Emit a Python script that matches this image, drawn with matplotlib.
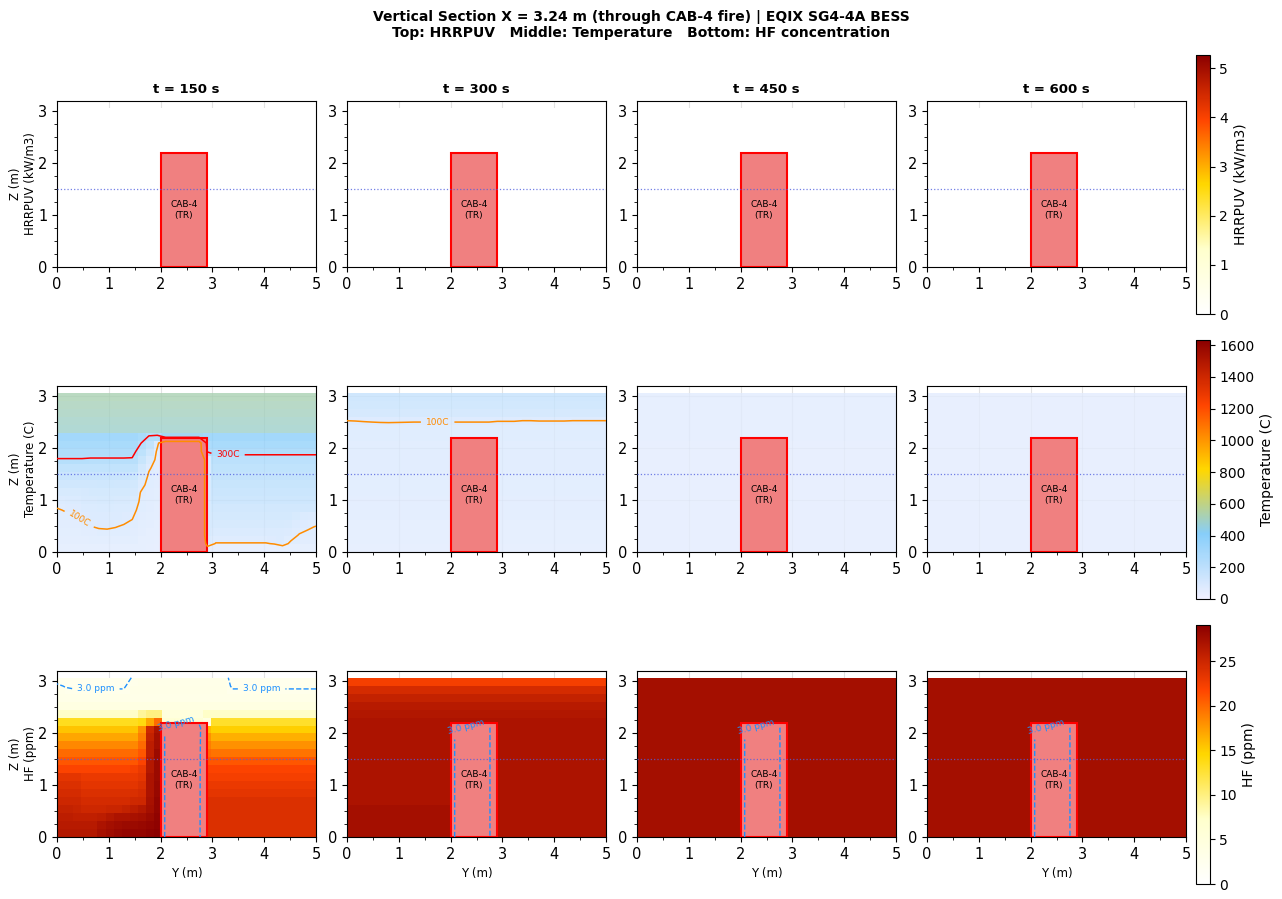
import numpy as np
import matplotlib
matplotlib.use("Agg")
import matplotlib.pyplot as plt
from matplotlib.colors import LinearSegmentedColormap, Normalize
from matplotlib.cm import ScalarMappable
from matplotlib.patches import Rectangle
from matplotlib.ticker import MultipleLocator

# ---------------- data ----------------
times = [150, 300, 450, 600]
col_titles = ["t = 150 s", "t = 300 s", "t = 450 s", "t = 600 s"]
y_extent = [0.0, 5.0]
z_extent = [0.0, 3.07]
n_y, n_z = 32, 20

cab_y = [2.0, 2.9]
cab_top = 2.2
probe_z = 1.5

hrr_vmax, temp_vmax, hf_vmax = 5.27, 1632.0, 29.1
hrr_level = [0.0, 0.0, 0.0, 0.0]          # HRRPUV in the section (kW/m3)

# Temperature (C), rows listed from top (z=3.07) to bottom (z=0), 32 columns in Y
temp_150 = [
    [525] * 32,
    [515] * 32,
    [505] * 32,
    [495] * 32,
    [485] * 32,
    [390] * 10 + [360, 310, 315] + [430] * 5 + [390] * 14,
    [360] * 10 + [305, 240, 115] + [20] * 5 + [340] + [360] * 13,
    [330] * 10 + [260, 180, 90] + [20] * 5 + [310] + [320] * 13,
    [295] * 4 + [292] * 5 + [290, 210, 130, 88] + [20] * 5 + [140] + [270] * 13,
    [240] * 10 + [160, 104, 87] + [20] * 5 + [140] + [245] * 13,
    [200] * 9 + [190, 130, 94, 85] + [20] * 5 + [140] + [225] * 13,
    [170] * 5 + [175, 175, 170, 170, 165, 110, 91, 83] + [20] * 5 + [140] + [210] * 13,
    [140, 140, 140, 145, 150, 150, 150, 150, 150, 145, 98, 89, 81] + [20] * 5 + [140] + [195] * 13,
    [110, 115, 120, 128, 132, 135, 135, 132, 130, 125, 94, 86, 79] + [20] * 5 + [140] + [180] * 13,
    [97, 102, 108, 115, 120, 123, 123, 120, 115, 110, 90, 83, 76] + [20] * 5 + [140] + [165] * 13,
    [90, 92, 96, 103, 110, 113, 113, 110, 105, 101, 85, 80, 73] + [20] * 5 + [140] + [150] * 10 + [140, 115, 110],
    [85, 86, 89, 93, 99, 102, 103, 100.5, 98, 93, 80, 75, 70] + [20] * 5 + [140] + [135] * 9 + [130, 110, 103, 99],
    [80, 80, 82, 84, 88, 92, 92, 94, 91, 87, 75, 70, 65] + [20] * 5 + [140] + [120] * 9 + [110, 98, 95, 93],
    [75, 75, 75, 76, 78, 80, 80, 82, 82, 80, 70, 65, 60] + [20] * 5 + [120] + [98] * 7 + [102, 110, 95, 90, 88, 86],
    [70] * 10 + [65, 60, 55] + [20] * 5 + [60] + [60] * 8 + [70] * 5,
]
temp_300_row16 = [102.5, 103, 104, 105, 106, 106.5, 106, 105.5, 105] + [105] * 9 + [103.5] * 3 + [102.5] * 2 + [103] * 4 + [102.5] * 5
temp_300 = [
    [170] * 32,
    [160] * 32,
    [145] * 32,
    temp_300_row16,
    [95] * 32,
    [92] * 32,
    [89] * 13 + [20] * 5 + [89] * 14,
    [87] * 13 + [20] * 5 + [87] * 14,
    [85] * 13 + [20] * 5 + [85] * 14,
    [83] * 13 + [20] * 5 + [83] * 14,
    [81] * 13 + [20] * 5 + [81] * 14,
    [79] * 13 + [20] * 5 + [79] * 14,
    [77] * 13 + [20] * 5 + [77] * 14,
    [75] * 13 + [20] * 5 + [75] * 14,
    [73] * 13 + [20] * 5 + [73] * 14,
    [71] * 13 + [20] * 5 + [71] * 14,
    [69] * 13 + [20] * 5 + [69] * 14,
    [67] * 13 + [20] * 5 + [67] * 14,
    [65] * 13 + [20] * 5 + [65] * 14,
    [63] * 13 + [20] * 5 + [63] * 14,
]
temp_450 = [[58] * 32] * 6 + [[55] * 13 + [20] * 5 + [55] * 14] * 14
temp_600 = [[54] * 32] * 6 + [[52] * 13 + [20] * 5 + [52] * 14] * 14

# HF concentration (ppm), rows from top to bottom
hf_150 = [
    [2.6] * 9 + [3.05] + [3.4] * 11 + [2.6] * 11,
    [3.15, 2.95] + [2.85] * 7 + [3.5] * 12 + [2.85] * 11,
    [3.3] * 32,
    [4.2] * 32,
    [7.5] * 10 + [9, 10, 10] + [5] * 5 + [7.5] * 14,
    [13.5] * 10 + [14, 17, 20] + [6] * 5 + [4] + [13] * 13,
    [15.5] * 10 + [18, 25, 27] + [0] * 5 + [16] + [15] * 13,
    [17] * 10 + [19, 25.5, 27.5] + [0] * 5 + [18] + [16.5] * 13,
    [18.5] * 10 + [20, 26, 27.5] + [0] * 5 + [19] + [18] * 13,
    [20] * 10 + [21, 26, 28] + [0] * 5 + [20] + [19.5] * 13,
    [21] * 10 + [22, 26.5, 28] + [0] * 5 + [21] * 14,
    [22] * 9 + [22.3] + [23, 26.5, 28] + [0] * 5 + [22] * 14,
    [23.5] * 3 + [23] * 7 + [23.5, 27, 28] + [0] * 5 + [22.5] * 14,
    [24] * 3 + [23.5] * 7 + [24, 27, 28.3] + [0] * 5 + [23] * 14,
    [24.5] * 3 + [24] * 6 + [24.2] + [24.5, 27, 28.3] + [0] * 5 + [23.5] * 14,
    [25] * 3 + [24.5] * 6 + [24.8] + [25, 27.2, 28.5] + [0] * 5 + [24] * 14,
    [25.5, 25.5, 25.3, 25, 25, 25, 25.2, 25.2, 25.5, 26, 26.5, 27.5, 28.5] + [0] * 5 + [24] * 14,
    [26, 26, 25.8, 25.8, 25.8, 26, 26.5, 27, 27, 27.2, 27.5, 28, 28.7] + [0] * 5 + [24] * 14,
    [26.3] * 5 + [27, 27.5, 27.8, 28, 28, 28.2, 28.5, 28.8] + [0] * 5 + [24] * 14,
    [26.5] * 5 + [27.3, 27.8, 28.2, 28.5, 28.5, 28.5, 28.8, 29] + [0] * 5 + [24] * 14,
]
hf_300 = [[22.5] * 32, [24.5] * 32, [25.5] * 32, [26.3] * 32, [26.7] * 32, [27] * 32] + \
         [[27] * 13 + [0] * 5 + [27] * 14] * 10 + [[27.4] * 13 + [0] * 5 + [27] * 14] * 4
hf_450 = [[27.4] * 32] * 6 + [[27.4] * 13 + [0] * 5 + [27.4] * 14] * 14
hf_600 = [[27.5] * 32] * 6 + [[27.5] * 13 + [0] * 5 + [27.5] * 14] * 14

temp_fields = [temp_150, temp_300, temp_450, temp_600]
hf_fields = [hf_150, hf_300, hf_450, hf_600]

temp_label_pos = [[(0.45, 0.66), (3.3, 1.88)], [(1.75, 2.5)], [], []]
hf_label_pos = [[(0.75, 2.93), (3.95, 2.83), (2.3, 2.2)], [(2.3, 2.15)], [(2.3, 2.15)], [(2.3, 2.15)]]

# ---------------- styling ----------------
fire_cmap = LinearSegmentedColormap.from_list(
    "fire", ["#FFFFFF", "#FFFFCC", "#FFD700", "#FF4500", "#8B0000"])
temp_cmap = LinearSegmentedColormap.from_list(
    "temp", ["#F0F0FF", "#87CEFA", "#FFD700", "#FF4500", "#8B0000"])

W, H = 1282, 899
fig = plt.figure(figsize=(W / 100, H / 100), dpi=100)


def fx(px):
    return px / W


def fy(top, h):
    return 1 - (top + h) / H


y_edges = np.linspace(y_extent[0], y_extent[1], n_y + 1)
z_edges = np.linspace(z_extent[0], z_extent[1], n_z + 1)
y_nodes = np.linspace(y_extent[0], y_extent[1], n_y)
z_nodes = np.linspace(z_extent[0], z_extent[1], n_z)

row_names = ["HRRPUV (kW/m3)", "Temperature (C)", "HF (ppm)"]
cbar_labels = ["HRRPUV (kW/m3)", "Temperature (C)", "HF (ppm)"]
cbar_tops = [55, 340, 625]
row_cmaps = [fire_cmap, temp_cmap, fire_cmap]
row_vmax = [hrr_vmax, temp_vmax, hf_vmax]

for r in range(3):
    for c in range(4):
        ax = fig.add_axes([fx(57 + 290 * c), fy(101 + 285 * r, 166), fx(259), 166 / H])
        ax.set_axisbelow(True)
        ax.grid(True, color="#b0b0b0", alpha=0.35, lw=0.8)
        if r == 0:
            field = np.full((n_z, n_y), hrr_level[c])
            ax.pcolormesh(y_edges, z_edges, field, cmap=fire_cmap, vmin=0, vmax=hrr_vmax)
        elif r == 1:
            field = np.array(temp_fields[c], dtype=float)[::-1]
            ax.pcolormesh(y_edges, z_edges, field, cmap=temp_cmap, vmin=0, vmax=temp_vmax,
                          alpha=0.8)
            cs = ax.contour(y_nodes, z_nodes, field, levels=[100, 300],
                            colors=["darkorange", "red"], linewidths=1.1, zorder=4)
            if temp_label_pos[c]:
                ax.clabel(cs, fmt={100: "100C", 300: "300C"}, fontsize=6.5,
                          inline=True, manual=temp_label_pos[c])
        else:
            field = np.array(hf_fields[c], dtype=float)[::-1]
            ax.pcolormesh(y_edges, z_edges, field, cmap=fire_cmap, vmin=0, vmax=hf_vmax)
            cs = ax.contour(y_nodes, z_nodes, field, levels=[3.0], colors="dodgerblue",
                            linestyles="--", linewidths=1.0, zorder=4)
            ax.clabel(cs, fmt="%.1f ppm", fontsize=6.5, inline=True, manual=hf_label_pos[c])

        ax.add_patch(Rectangle((cab_y[0], 0), cab_y[1] - cab_y[0], cab_top,
                               facecolor="#F08080", edgecolor="red", lw=1.5, zorder=3))
        ax.text((cab_y[0] + cab_y[1]) / 2, 1.1, "CAB-4\n(TR)", ha="center", va="center",
                fontsize=6.5, zorder=6)
        ax.axhline(probe_z, color="#5060E0", ls=":", lw=0.9, alpha=0.8, zorder=5)

        ax.set_xlim(0, 5)
        ax.set_ylim(0, 3.2)
        ax.xaxis.set_minor_locator(MultipleLocator(0.5))
        ax.yaxis.set_minor_locator(MultipleLocator(0.25))
        ax.tick_params(labelsize=10.5)
        if r == 0:
            ax.set_title(col_titles[c], fontsize=9.5, fontweight="bold", pad=6)
        if c == 0:
            ax.set_ylabel("Z (m)\n" + row_names[r], fontsize=8.5, labelpad=1)
        if r == 2:
            ax.set_xlabel("Y (m)", fontsize=8.5)

    cax = fig.add_axes([fx(1196), fy(cbar_tops[r], 259), fx(13.5), 259 / H])
    sm = ScalarMappable(norm=Normalize(0, row_vmax[r]), cmap=row_cmaps[r])
    cb = fig.colorbar(sm, cax=cax)
    cb.ax.tick_params(labelsize=10)
    cb.set_label(cbar_labels[r], fontsize=10)

fig.suptitle("Vertical Section X = 3.24 m (through CAB-4 fire) | EQIX SG4-4A BESS\n"
             "Top: HRRPUV   Middle: Temperature   Bottom: HF concentration",
             fontsize=10, fontweight="bold", y=1 - 10 / H, va="top")

fig.savefig("out.png", dpi=100)
